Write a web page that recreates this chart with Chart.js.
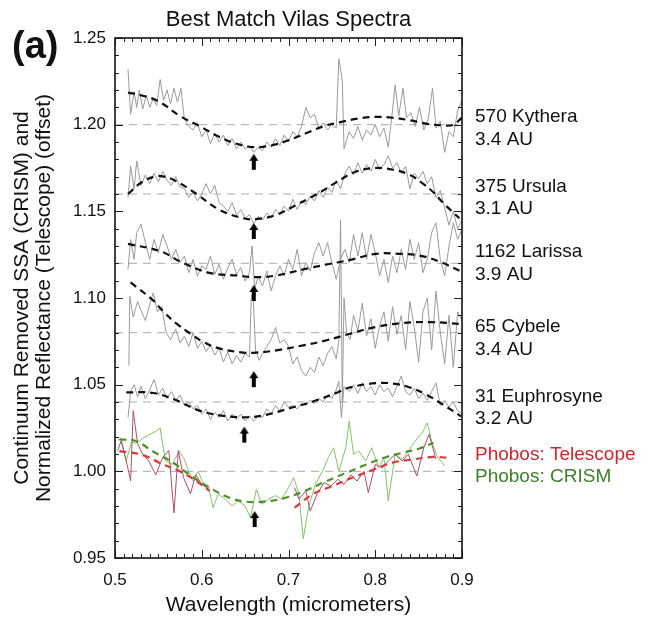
<!DOCTYPE html>
<html>
<head>
<meta charset="utf-8">
<script src="https://cdn.jsdelivr.net/npm/chart.js@4/dist/chart.umd.min.js"></script>
<style>
  html, body { margin: 0; padding: 0; background: #fff; }
  #wrap { width: 648px; height: 624px; }
</style>
</head>
<body>
<div id="wrap"><canvas id="chart" width="648" height="624"></canvas></div>
<script>
// values: [wavelength (micrometers), offset reflectance]
const xTicks = [0.5, 0.6, 0.7, 0.8, 0.9];
const yTicks = [0.95, 1.00, 1.05, 1.10, 1.15, 1.20, 1.25];
const offsets = [1.20, 1.16, 1.12, 1.08, 1.04, 1.00];

const kytheraSpec = [[0.515,1.232],[0.518,1.206],[0.522,1.219],[0.525,1.210],[0.528,1.220],[0.532,1.209],[0.536,1.217],[0.540,1.210],[0.544,1.215],[0.548,1.211],[0.552,1.226],[0.556,1.214],[0.560,1.220],[0.564,1.212],[0.568,1.221],[0.572,1.213],[0.576,1.221],[0.580,1.203],[0.585,1.199],[0.590,1.197],[0.595,1.201],[0.600,1.193],[0.605,1.197],[0.610,1.189],[0.615,1.195],[0.620,1.190],[0.625,1.194],[0.630,1.188],[0.635,1.192],[0.640,1.186],[0.645,1.190],[0.650,1.186],[0.655,1.188],[0.660,1.184],[0.665,1.187],[0.670,1.185],[0.675,1.190],[0.680,1.187],[0.685,1.192],[0.690,1.188],[0.695,1.194],[0.700,1.190],[0.705,1.196],[0.710,1.193],[0.715,1.199],[0.720,1.210],[0.725,1.204],[0.730,1.206],[0.735,1.198],[0.740,1.201],[0.745,1.197],[0.750,1.200],[0.755,1.198],[0.758,1.238],[0.760,1.232],[0.762,1.225],[0.764,1.186],[0.770,1.196],[0.775,1.192],[0.780,1.199],[0.785,1.191],[0.790,1.197],[0.795,1.194],[0.800,1.200],[0.805,1.193],[0.810,1.198],[0.815,1.187],[0.819,1.204],[0.823,1.223],[0.827,1.205],[0.832,1.221],[0.836,1.204],[0.841,1.207],[0.846,1.199],[0.851,1.210],[0.856,1.197],[0.861,1.203],[0.866,1.221],[0.870,1.198],[0.875,1.202],[0.880,1.184],[0.885,1.196],[0.890,1.193],[0.895,1.208],[0.900,1.214]];
const kytheraFit = [[0.515,1.2185],[0.53,1.217],[0.55,1.2135],[0.575,1.205],[0.60,1.1985],[0.62,1.193],[0.64,1.189],[0.66,1.187],[0.68,1.188],[0.70,1.191],[0.72,1.195],[0.74,1.199],[0.76,1.2015],[0.78,1.2035],[0.80,1.2045],[0.82,1.204],[0.84,1.2025],[0.86,1.2005],[0.88,1.1995],[0.89,1.200],[0.90,1.204]];

const ursulaSpec = [[0.515,1.158],[0.518,1.176],[0.522,1.163],[0.525,1.179],[0.530,1.165],[0.535,1.171],[0.540,1.166],[0.545,1.172],[0.550,1.167],[0.555,1.173],[0.560,1.168],[0.565,1.165],[0.570,1.170],[0.575,1.164],[0.580,1.163],[0.585,1.158],[0.590,1.161],[0.595,1.156],[0.600,1.160],[0.605,1.166],[0.610,1.160],[0.615,1.165],[0.620,1.155],[0.625,1.153],[0.630,1.150],[0.635,1.155],[0.640,1.148],[0.645,1.151],[0.650,1.146],[0.655,1.148],[0.660,1.143],[0.665,1.147],[0.670,1.145],[0.675,1.149],[0.680,1.146],[0.685,1.151],[0.690,1.148],[0.695,1.153],[0.700,1.150],[0.705,1.157],[0.710,1.151],[0.715,1.156],[0.720,1.154],[0.725,1.159],[0.730,1.156],[0.735,1.162],[0.740,1.158],[0.745,1.164],[0.750,1.161],[0.755,1.168],[0.760,1.163],[0.765,1.172],[0.770,1.176],[0.775,1.171],[0.780,1.178],[0.785,1.172],[0.790,1.177],[0.795,1.173],[0.800,1.180],[0.805,1.174],[0.810,1.177],[0.815,1.182],[0.820,1.175],[0.825,1.178],[0.830,1.172],[0.835,1.176],[0.840,1.163],[0.845,1.172],[0.850,1.169],[0.855,1.173],[0.860,1.166],[0.865,1.170],[0.870,1.158],[0.875,1.162],[0.880,1.152],[0.885,1.142],[0.890,1.150],[0.895,1.140],[0.900,1.145]];
const ursulaFit = [[0.515,1.160],[0.53,1.1665],[0.545,1.170],[0.555,1.1702],[0.57,1.1675],[0.594,1.160],[0.62,1.151],[0.648,1.146],[0.663,1.1455],[0.686,1.148],[0.71,1.154],[0.733,1.160],[0.756,1.167],[0.778,1.173],[0.80,1.175],[0.821,1.174],[0.84,1.171],[0.855,1.166],[0.867,1.161],[0.878,1.155],[0.897,1.146]];

const larissaSpec = [[0.515,1.1165],[0.518,1.1338],[0.522,1.1223],[0.525,1.1377],[0.530,1.1425],[0.535,1.1319],[0.540,1.1223],[0.545,1.1338],[0.550,1.1261],[0.555,1.1367],[0.560,1.1300],[0.565,1.1223],[0.570,1.1281],[0.575,1.1204],[0.580,1.1242],[0.585,1.1146],[0.590,1.1223],[0.595,1.1127],[0.600,1.1185],[0.605,1.1165],[0.610,1.1242],[0.615,1.1137],[0.620,1.1194],[0.625,1.1108],[0.630,1.1175],[0.635,1.1223],[0.640,1.1137],[0.645,1.1175],[0.650,1.1098],[0.655,1.1146],[0.658,1.1300],[0.661,1.1050],[0.665,1.1127],[0.670,1.1069],[0.675,1.1156],[0.680,1.1041],[0.685,1.1127],[0.690,1.1185],[0.695,1.1127],[0.700,1.1223],[0.705,1.1165],[0.710,1.1281],[0.715,1.1127],[0.720,1.1204],[0.725,1.1156],[0.730,1.1261],[0.735,1.1319],[0.740,1.1242],[0.745,1.1319],[0.750,1.1204],[0.755,1.1108],[0.760,1.1223],[0.765,1.1281],[0.770,1.1204],[0.775,1.1367],[0.780,1.1242],[0.785,1.1377],[0.790,1.1223],[0.795,1.1367],[0.800,1.1261],[0.805,1.1127],[0.810,1.1223],[0.815,1.1089],[0.820,1.1242],[0.825,1.1146],[0.830,1.1281],[0.835,1.1165],[0.840,1.1338],[0.845,1.1223],[0.850,1.1319],[0.855,1.1146],[0.860,1.1223],[0.865,1.1377],[0.870,1.1434],[0.875,1.1223],[0.880,1.1127],[0.885,1.1300],[0.890,1.1434],[0.895,1.1338],[0.900,1.1396]];
const larissaFit = [[0.515,1.1312],[0.552,1.127],[0.578,1.1203],[0.609,1.1145],[0.64,1.113],[0.663,1.112],[0.686,1.113],[0.717,1.1165],[0.744,1.1193],[0.771,1.122],[0.801,1.1255],[0.828,1.1255],[0.851,1.1245],[0.874,1.121],[0.90,1.115]];

const cybeleSpec = [[0.516,1.061],[0.517,1.101],[0.521,1.089],[0.526,1.098],[0.530,1.093],[0.535,1.087],[0.540,1.096],[0.544,1.103],[0.549,1.092],[0.554,1.095],[0.559,1.080],[0.564,1.076],[0.570,1.082],[0.575,1.074],[0.580,1.078],[0.585,1.072],[0.590,1.080],[0.595,1.071],[0.600,1.075],[0.605,1.069],[0.610,1.073],[0.615,1.067],[0.620,1.071],[0.625,1.063],[0.630,1.069],[0.635,1.062],[0.640,1.067],[0.645,1.063],[0.650,1.068],[0.655,1.066],[0.657,1.100],[0.659,1.104],[0.662,1.070],[0.666,1.064],[0.670,1.068],[0.675,1.072],[0.680,1.076],[0.685,1.083],[0.690,1.074],[0.695,1.076],[0.700,1.072],[0.705,1.062],[0.710,1.066],[0.715,1.058],[0.720,1.055],[0.725,1.060],[0.730,1.057],[0.735,1.066],[0.740,1.061],[0.745,1.068],[0.750,1.072],[0.755,1.065],[0.758,1.075],[0.760,1.145],[0.762,1.040],[0.764,1.100],[0.767,1.080],[0.771,1.076],[0.775,1.090],[0.780,1.081],[0.785,1.097],[0.790,1.078],[0.795,1.088],[0.800,1.071],[0.805,1.084],[0.810,1.092],[0.815,1.075],[0.820,1.095],[0.825,1.079],[0.830,1.090],[0.835,1.070],[0.840,1.098],[0.845,1.083],[0.850,1.063],[0.855,1.092],[0.860,1.100],[0.865,1.070],[0.870,1.104],[0.875,1.080],[0.880,1.062],[0.885,1.090],[0.890,1.060],[0.895,1.092],[0.900,1.087]];
const cybeleFit = [[0.518,1.109],[0.544,1.0986],[0.556,1.092],[0.571,1.0852],[0.587,1.0794],[0.602,1.0746],[0.621,1.0708],[0.648,1.0685],[0.663,1.0685],[0.686,1.0698],[0.717,1.0727],[0.744,1.0756],[0.771,1.0794],[0.801,1.0833],[0.832,1.0856],[0.863,1.0861],[0.90,1.085]];

const euphrosyneSpec = [[0.515,1.031],[0.518,1.046],[0.522,1.050],[0.526,1.043],[0.530,1.049],[0.535,1.042],[0.540,1.047],[0.545,1.053],[0.550,1.044],[0.555,1.048],[0.560,1.042],[0.565,1.046],[0.570,1.041],[0.575,1.044],[0.580,1.038],[0.585,1.040],[0.590,1.036],[0.595,1.038],[0.600,1.033],[0.605,1.036],[0.610,1.030],[0.615,1.034],[0.620,1.031],[0.625,1.035],[0.630,1.029],[0.635,1.033],[0.640,1.030],[0.645,1.033],[0.650,1.029],[0.655,1.032],[0.660,1.029],[0.665,1.032],[0.670,1.031],[0.675,1.036],[0.680,1.033],[0.685,1.038],[0.690,1.035],[0.695,1.040],[0.700,1.037],[0.705,1.038],[0.710,1.036],[0.715,1.039],[0.720,1.038],[0.725,1.041],[0.730,1.039],[0.735,1.042],[0.740,1.040],[0.745,1.044],[0.750,1.042],[0.755,1.047],[0.758,1.052],[0.761,1.031],[0.764,1.049],[0.770,1.046],[0.775,1.050],[0.780,1.045],[0.785,1.051],[0.790,1.046],[0.795,1.049],[0.800,1.044],[0.805,1.050],[0.810,1.046],[0.815,1.048],[0.820,1.043],[0.825,1.049],[0.830,1.055],[0.835,1.046],[0.840,1.044],[0.845,1.048],[0.850,1.042],[0.855,1.045],[0.860,1.041],[0.865,1.046],[0.870,1.051],[0.875,1.038],[0.880,1.041],[0.885,1.037],[0.890,1.040],[0.895,1.035],[0.900,1.033]];
const euphrosyneFit = [[0.513,1.0456],[0.544,1.0452],[0.571,1.041],[0.594,1.0356],[0.621,1.0323],[0.652,1.0312],[0.675,1.0327],[0.702,1.0365],[0.729,1.0404],[0.755,1.0452],[0.771,1.0484],[0.801,1.0509],[0.821,1.0506],[0.84,1.0484],[0.859,1.0442],[0.878,1.0385],[0.899,1.0317]];

const telescopeSpecA = [[0.503,1.012],[0.507,1.0175],[0.513,1.006],[0.518,0.9945],[0.521,1.035],[0.526,1.016],[0.532,1.0098],[0.539,1.006],[0.547,0.998],[0.555,1.008],[0.562,1.012],[0.568,0.976],[0.573,1.012],[0.579,0.9964],[0.587,0.987],[0.593,0.998],[0.600,0.9925],[0.608,0.9896]];
const telescopeSpecB = [[0.707,0.9906],[0.712,0.984],[0.720,0.9887],[0.725,0.977],[0.733,0.987],[0.741,0.9935],[0.749,0.9916],[0.757,0.9954],[0.764,0.9925],[0.772,0.998],[0.779,0.9944],[0.787,1.000],[0.792,0.9877],[0.800,1.004],[0.808,1.002],[0.815,1.006],[0.823,1.0098],[0.831,1.006],[0.838,1.0098],[0.848,0.9973],[0.856,1.0136],[0.862,1.0213],[0.870,1.007]];
const telescopeFitA = [[0.505,1.0117],[0.532,1.0094],[0.555,1.004],[0.574,1.0002],[0.594,0.9944],[0.609,0.9887]];
const telescopeFitB = [[0.707,0.979],[0.728,0.9868],[0.751,0.9916],[0.774,0.9964],[0.797,1.0008],[0.82,1.005],[0.844,1.0069],[0.867,1.0083],[0.882,1.0079]];

const crismSpec = [[0.503,1.018],[0.507,1.019],[0.513,1.006],[0.519,1.017],[0.524,1.016],[0.532,1.019],[0.539,1.021],[0.547,1.023],[0.552,1.025],[0.558,1.006],[0.566,1.004],[0.574,1.0117],[0.579,1.008],[0.585,1.000],[0.590,0.9944],[0.596,1.000],[0.602,0.9925],[0.608,0.9906],[0.613,0.979],[0.619,0.9868],[0.627,0.984],[0.635,0.980],[0.642,0.983],[0.650,0.980],[0.656,0.9733],[0.663,0.9896],[0.669,0.981],[0.677,0.984],[0.685,0.986],[0.692,0.984],[0.700,0.9906],[0.706,0.9964],[0.712,0.987],[0.717,0.961],[0.723,0.979],[0.731,0.9925],[0.739,1.000],[0.746,1.008],[0.752,1.0136],[0.758,1.000],[0.766,1.0136],[0.770,1.029],[0.775,1.0098],[0.781,1.0117],[0.789,1.006],[0.796,1.0136],[0.804,1.002],[0.810,1.008],[0.815,0.983],[0.823,1.0098],[0.831,1.007],[0.838,1.0117],[0.846,1.0175],[0.854,1.022],[0.860,1.028],[0.865,1.0175],[0.871,1.009],[0.880,1.003]];
const crismFit = [[0.505,1.0184],[0.524,1.0175],[0.543,1.0117],[0.567,1.005],[0.586,0.998],[0.609,0.9906],[0.632,0.9848],[0.651,0.9825],[0.671,0.9825],[0.694,0.9844],[0.717,0.9883],[0.744,0.9944],[0.767,0.9992],[0.79,1.004],[0.813,1.0083],[0.832,1.0108],[0.851,1.0132],[0.867,1.0165]];

// band-centre arrows (tip positions)
const arrowTips = [[0.660,1.1832],[0.660,1.1433],[0.660,1.1075],[0.660,1.0578],[0.649,1.0258],[0.661,0.9771]];

const asteroidLabels = [['570 Kythera', '3.4 AU'], ['375 Ursula', '3.1 AU'], ['1162 Larissa', '3.9 AU'], ['65 Cybele', '3.4 AU'], ['31 Euphrosyne', '3.2 AU']];
const phobosLabels = ['Phobos: Telescope', 'Phobos: CRISM'];

const FONT = "'Liberation Sans', Arial, sans-serif";
const GREY = '#9a9a9a';
const RED = '#c8282e';
const GREEN = '#3e7f2a';

const pts = arr => arr.map(p => ({ x: p[0], y: p[1] }));

function arrowImage() {
    const c = document.createElement('canvas');
    c.width = 10; c.height = 34;
    const g = c.getContext('2d');
    g.fillStyle = '#000';
    g.beginPath();
    g.moveTo(5, 17); g.lineTo(9.5, 24); g.lineTo(0.5, 24); g.closePath();
    g.fill();
    g.fillRect(3, 23, 4, 10);
    return c;
}

const datasets = [];
offsets.forEach(o => datasets.push({
    data: [{ x: 0.5, y: o }, { x: 0.9, y: o }],
    borderColor: '#aaaaaa', borderWidth: 1, borderDash: [8, 6], order: 5
}));
[kytheraSpec, ursulaSpec, larissaSpec, cybeleSpec, euphrosyneSpec].forEach(s => datasets.push({
    data: pts(s), borderColor: GREY, borderWidth: 1, order: 4
}));
datasets.push({ data: pts(telescopeSpecA), borderColor: '#a8506a', borderWidth: 1, order: 4 });
datasets.push({ data: pts(telescopeSpecB), borderColor: '#a8506a', borderWidth: 1, order: 4 });
datasets.push({ data: pts(crismSpec), borderColor: '#84c26a', borderWidth: 1, order: 4 });
[kytheraFit, ursulaFit, larissaFit, cybeleFit, euphrosyneFit].forEach(s => datasets.push({
    data: pts(s), borderColor: '#111', borderWidth: 2.2, borderDash: [7, 5], tension: 0.4, order: 2
}));
datasets.push({ data: pts(telescopeFitA), borderColor: '#d83a3a', borderWidth: 2.2, borderDash: [7, 5], tension: 0.4, order: 2 });
datasets.push({ data: pts(telescopeFitB), borderColor: '#d83a3a', borderWidth: 2.2, borderDash: [7, 5], tension: 0.4, order: 2 });
datasets.push({ data: pts(crismFit), borderColor: '#4e8f2e', borderWidth: 2.2, borderDash: [7, 5], tension: 0.4, order: 1 });
datasets.push({
    data: pts(arrowTips), showLine: false, pointStyle: arrowImage(), pointRadius: 8, order: 0
});

// frame, inward ticks and the free text of the figure
const decorations = {
    id: 'decorations',
    afterDraw(chart) {
        const { ctx, chartArea: a, scales: { x, y } } = chart;
        ctx.save();
        ctx.strokeStyle = '#222';
        ctx.lineWidth = 1;
        ctx.beginPath();
        for (let i = 0; i <= 40; i++) {
            const px = Math.round(x.getPixelForValue(0.5 + i * 0.01)) + 0.5;
            const len = i % 10 === 0 ? 8 : 4;
            ctx.moveTo(px, a.bottom); ctx.lineTo(px, a.bottom - len);
            ctx.moveTo(px, a.top); ctx.lineTo(px, a.top + len);
        }
        for (let i = 0; i <= 30; i++) {
            const py = Math.round(y.getPixelForValue(0.95 + i * 0.01)) + 0.5;
            const len = i % 5 === 0 ? 8 : 4;
            ctx.moveTo(a.left, py); ctx.lineTo(a.left + len, py);
            ctx.moveTo(a.right, py); ctx.lineTo(a.right - len, py);
        }
        ctx.stroke();
        ctx.lineWidth = 1.6;
        ctx.strokeStyle = '#111';
        ctx.strokeRect(a.left, a.top, a.right - a.left, a.bottom - a.top);

        ctx.fillStyle = '#111';
        ctx.textAlign = 'center';
        ctx.font = '22px ' + FONT;
        ctx.fillText('Best Match Vilas Spectra', (a.left + a.right) / 2, 26);
        ctx.textAlign = 'left';
        ctx.font = 'bold 38px ' + FONT;
        ctx.fillText('(a)', 12, 58);

        ctx.font = '19px ' + FONT;
        const baselines = [[122, 145], [192, 214], [257, 280], [332, 355], [402, 424]];
        asteroidLabels.forEach((lines, i) => {
            ctx.fillText(lines[0], 475, baselines[i][0]);
            ctx.fillText(lines[1], 475, baselines[i][1]);
        });
        ctx.fillStyle = RED;
        ctx.fillText(phobosLabels[0], 475, 460);
        ctx.fillStyle = GREEN;
        ctx.fillText(phobosLabels[1], 475, 482);
        ctx.restore();
    }
};

new Chart(document.getElementById('chart'), {
    type: 'line',
    data: { datasets },
    options: {
        responsive: false,
        animation: false,
        events: [],
        layout: { padding: { left: 0, right: 186, top: 38, bottom: 0 } },
        elements: { point: { radius: 0 }, line: { tension: 0 } },
        plugins: { legend: { display: false }, tooltip: { enabled: false } },
        scales: {
            x: {
                type: 'linear', min: 0.5, max: 0.9,
                afterFit: s => { s.height = 66; },
                afterBuildTicks: s => { s.ticks = xTicks.map(v => ({ value: v })); },
                grid: { display: false, drawTicks: false },
                border: { display: false },
                ticks: { color: '#111', padding: 12, maxRotation: 0, font: { size: 17, family: FONT }, callback: v => v.toFixed(1) },
                title: { display: true, text: 'Wavelength (micrometers)', color: '#111', padding: { top: 0, bottom: 6 }, font: { size: 21, family: FONT } }
            },
            y: {
                type: 'linear', min: 0.95, max: 1.25,
                afterFit: s => { s.width = 115; },
                afterBuildTicks: s => { s.ticks = yTicks.map(v => ({ value: v })); },
                grid: { display: false, drawTicks: false },
                border: { display: false },
                ticks: { color: '#111', padding: 9, font: { size: 17, family: FONT }, callback: v => v.toFixed(2) },
                title: {
                    display: true,
                    text: ['Continuum Removed SSA (CRISM) and', 'Normalized Reflectance (Telescope) (offset)'],
                    color: '#111', padding: { top: 11, bottom: 0 },
                    font: { size: 21, family: FONT, lineHeight: 1.05 }
                }
            }
        }
    },
    plugins: [decorations]
});
</script>
</body>
</html>
